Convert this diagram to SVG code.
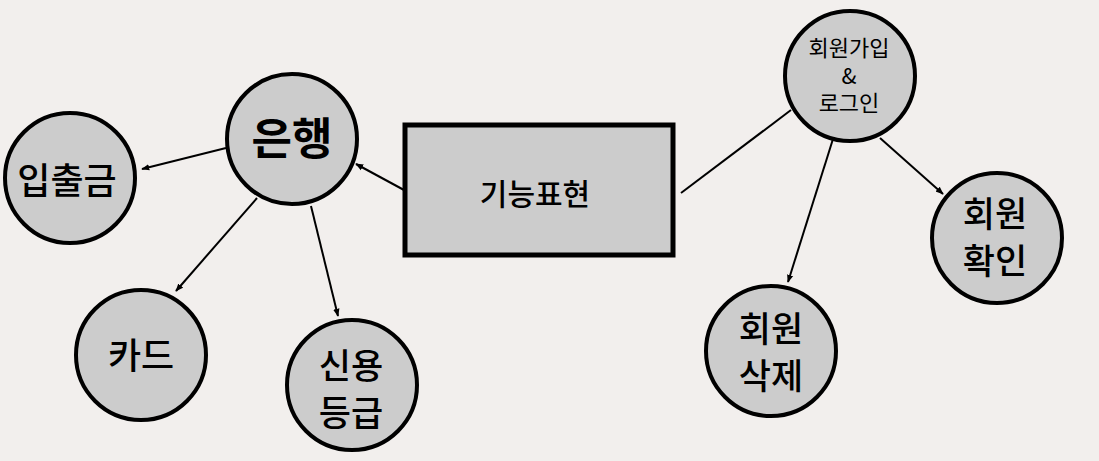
<svg xmlns="http://www.w3.org/2000/svg" width="1099" height="461" viewBox="0 0 1099 461">
<style>
.n{fill:#cccccc;stroke:#000;stroke-width:4}
.t{font-family:"Noto Sans CJK KR","Noto Sans",sans-serif;fill:#000;text-anchor:middle}
.m{font-weight:500}
.b{font-weight:bold}
.c{stroke:#000;stroke-width:2;fill:none}
</style>
<defs>
<marker id="a" viewBox="0 0 10 10" refX="9" refY="5" markerWidth="4" markerHeight="4" orient="auto" markerUnits="strokeWidth">
<path d="M0,1 L10,5 L0,9 Z" fill="#000"/>
</marker>
</defs>
<rect width="1099" height="461" fill="#f2efed"/>
<g id="connectors">
<line class="c" x1="404" y1="190" x2="356" y2="164" marker-end="url(#a)"/>
<line class="c" x1="226" y1="148" x2="142" y2="169" marker-end="url(#a)"/>
<line class="c" x1="257" y1="198" x2="176" y2="291" marker-end="url(#a)"/>
<line class="c" x1="311" y1="206" x2="338" y2="316" marker-end="url(#a)"/>
<line class="c" x1="681" y1="193" x2="791" y2="110"/>
<line class="c" x1="833" y1="139" x2="788" y2="282" marker-end="url(#a)"/>
<line class="c" x1="880" y1="138" x2="943" y2="194" marker-end="url(#a)"/>
</g>
<g id="center">
<rect class="n" x="405" y="125" width="268" height="130" style="stroke-width:5"/>
<text class="t m" x="535" y="205" font-size="30">기능표현</text>
</g>
<g id="bank">
<circle class="n" cx="292" cy="139" r="65"/>
<text class="t b" x="292" y="155" font-size="44">은행</text>
</g>
<g id="deposit">
<circle class="n" cx="70" cy="178" r="65"/>
<text class="t m" x="67" y="194" font-size="36">입출금</text>
</g>
<g id="card">
<circle class="n" cx="141" cy="355" r="65"/>
<text class="t m" x="141" y="369" font-size="36">카드</text>
</g>
<g id="credit">
<circle class="n" cx="352" cy="385" r="65"/>
<text class="t m" x="351" y="379" font-size="35">신용</text>
<text class="t m" x="351" y="426" font-size="35">등급</text>
</g>
<g id="join">
<circle class="n" cx="850" cy="76" r="65"/>
<text class="t" x="849" y="56" font-size="22">회원가입</text>
<text class="t" x="849" y="84" font-size="22">&amp;</text>
<text class="t" x="849" y="111" font-size="22">로그인</text>
</g>
<g id="verify">
<circle class="n" cx="997" cy="238" r="65"/>
<text class="t m" x="995" y="227" font-size="35">회원</text>
<text class="t m" x="995" y="274" font-size="35">확인</text>
</g>
<g id="delete">
<circle class="n" cx="771" cy="351" r="65"/>
<text class="t m" x="771" y="342" font-size="35">회원</text>
<text class="t m" x="771" y="389" font-size="35">삭제</text>
</g>
</svg>
